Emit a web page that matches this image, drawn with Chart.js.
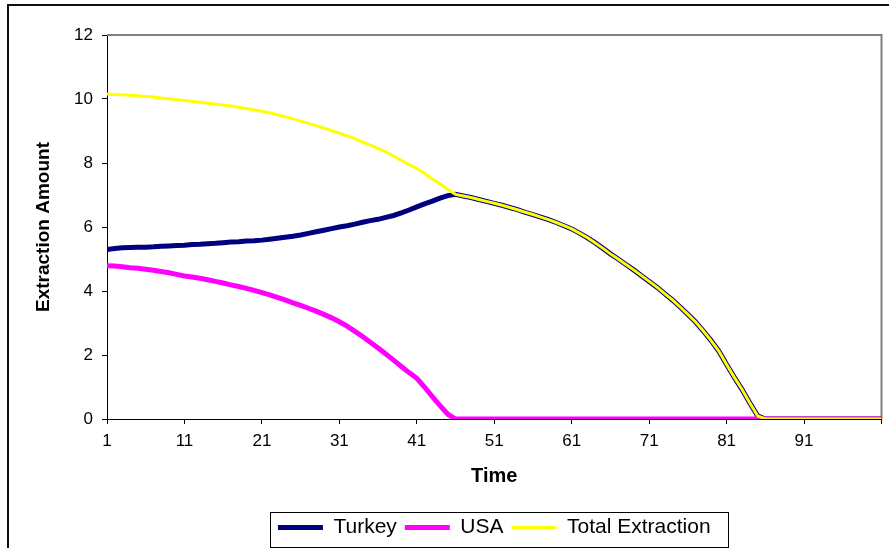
<!DOCTYPE html>
<html>
<head>
  <title>Extraction Amount</title>
  <style>
    body {
      margin: 0;
      background: #fff;
      overflow: hidden;
      width: 889px;
      height: 548px;
      position: relative;
    }
    .frame {
      position: absolute;
      left: 7px;
      top: 4px;
      width: 1000px;
      height: 1000px;
      border-left: 2px solid #111;
      border-top: 2px solid #111;
    }
    canvas {
      position: absolute;
      left: 0;
      top: 0;
    }
  </style>
</head>
<body>
  <div class="frame"></div>
  <canvas id="chart" width="889" height="548"></canvas>

  <script src="https://cdn.jsdelivr.net/npm/chart.js"></script>
  <script>
    // time steps 1..101, ticks every 10 periods
    const times = Array.from({ length: 101 }, (_, i) => i + 1);
    const xTicks = [1, 11, 21, 31, 41, 51, 61, 71, 81, 91, 101];
    const xTickLabels = ['1', '11', '21', '31', '41', '51', '61', '71', '81', '91', ''];

    const turkey = [
      5.30, 5.33, 5.35, 5.36, 5.37, 5.37, 5.38, 5.40, 5.41, 5.42,
      5.43, 5.45, 5.46, 5.48, 5.49, 5.51, 5.53, 5.54, 5.56, 5.57,
      5.59, 5.62, 5.65, 5.68, 5.71, 5.75, 5.80, 5.85, 5.90, 5.95,
      6.00, 6.04, 6.09, 6.15, 6.20, 6.24, 6.30, 6.36, 6.44, 6.53,
      6.63, 6.72, 6.81, 6.90, 6.98, 7.02, 6.97, 6.92, 6.86, 6.80,
      6.74, 6.68, 6.61, 6.54, 6.46, 6.39, 6.31, 6.23, 6.14, 6.04,
      5.94, 5.81, 5.67, 5.51, 5.34, 5.16, 5.00, 4.83, 4.66, 4.48,
      4.30, 4.12, 3.92, 3.72, 3.50, 3.27, 3.03, 2.75, 2.45, 2.12,
      1.70, 1.30, 0.92, 0.50, 0.10, 0, 0, 0, 0, 0,
      0, 0, 0, 0, 0, 0, 0, 0, 0, 0, 0
    ];

    const usa = [
      4.79, 4.78, 4.76, 4.73, 4.71, 4.68, 4.65, 4.61, 4.57, 4.52,
      4.47, 4.44, 4.40, 4.35, 4.30, 4.25, 4.19, 4.14, 4.08, 4.02,
      3.95, 3.88, 3.80, 3.72, 3.63, 3.55, 3.46, 3.37, 3.27, 3.16,
      3.04, 2.90, 2.74, 2.58, 2.40, 2.22, 2.03, 1.84, 1.64, 1.45,
      1.27, 1.00, 0.70, 0.42, 0.15, 0, 0, 0, 0, 0,
      0, 0, 0, 0, 0, 0, 0, 0, 0, 0,
      0, 0, 0, 0, 0, 0, 0, 0, 0, 0,
      0, 0, 0, 0, 0, 0, 0, 0, 0, 0,
      0, 0, 0, 0, 0, 0, 0, 0, 0, 0,
      0, 0, 0, 0, 0, 0, 0, 0, 0, 0, 0
    ];

    const total = [
      10.16, 10.14, 10.13, 10.12, 10.10, 10.08, 10.06, 10.03, 10.01, 9.98,
      9.95, 9.93, 9.90, 9.87, 9.84, 9.81, 9.78, 9.74, 9.70, 9.66,
      9.62, 9.57, 9.51, 9.45, 9.38, 9.31, 9.24, 9.17, 9.09, 9.01,
      8.93, 8.85, 8.76, 8.66, 8.56, 8.46, 8.35, 8.22, 8.08, 7.95,
      7.83, 7.68, 7.50, 7.35, 7.17, 7.02, 6.97, 6.92, 6.86, 6.80,
      6.74, 6.68, 6.61, 6.54, 6.46, 6.39, 6.31, 6.23, 6.14, 6.04,
      5.94, 5.81, 5.67, 5.51, 5.34, 5.16, 5.00, 4.83, 4.66, 4.48,
      4.30, 4.12, 3.92, 3.72, 3.50, 3.27, 3.03, 2.75, 2.45, 2.12,
      1.70, 1.30, 0.92, 0.50, 0.10, 0, 0, 0, 0, 0,
      0, 0, 0, 0, 0, 0, 0, 0, 0, 0, 0
    ];

    const FONT = '"Liberation Sans", Arial, sans-serif';
    const toPoints = arr => arr.map((v, i) => ({ x: times[i], y: v }));

    // gray top/right plot border + box around legend, like the Excel original
    const framePlugin = {
      id: 'frame',
      beforeDatasetsDraw(chart) {
        const { ctx, chartArea: a } = chart;
        ctx.save();
        ctx.strokeStyle = '#808080';
        ctx.lineWidth = 2;
        ctx.beginPath();
        ctx.moveTo(a.left, a.top);
        ctx.lineTo(a.right, a.top);
        ctx.lineTo(a.right, a.bottom);
        ctx.stroke();
        ctx.restore();
      },
      afterDraw(chart) {
        const lg = chart.legend;
        const hb = lg && lg.legendHitBoxes;
        if (!hb || !hb.length) return;
        const first = hb[0], last = hb[hb.length - 1];
        const ctx = chart.ctx;
        ctx.save();
        ctx.strokeStyle = '#000';
        ctx.lineWidth = 1;
        const left = Math.round(first.left - 8) + 0.5;
        const right = Math.round(last.left + last.width + 17) + 0.5;
        ctx.strokeRect(left, Math.round(lg.top + 3) + 0.5, right - left, lg.bottom - lg.top - 4);
        ctx.restore();
      }
    };

    const ctx = document.getElementById('chart').getContext('2d');
    new Chart(ctx, {
      type: 'line',
      data: {
        datasets: [
          { label: 'Turkey', data: toPoints(turkey), borderColor: '#000080', backgroundColor: '#000080', borderWidth: 5, pointRadius: 0, order: 2 },
          { label: 'USA', data: toPoints(usa), borderColor: '#ff00ff', backgroundColor: '#ff00ff', borderWidth: 5, pointRadius: 0, order: 1 },
          { label: 'Total Extraction', data: toPoints(total), borderColor: '#ffff00', backgroundColor: '#ffff00', borderWidth: 3, pointRadius: 0, order: 0 }
        ]
      },
      options: {
        responsive: false,
        animation: false,
        layout: { padding: { top: 35, right: 6, left: 0, bottom: 0 } },
        plugins: {
          tooltip: { enabled: false },
          legend: {
            position: 'bottom',
            fullSize: false,
            labels: {
              usePointStyle: true,
              pointStyle: 'line',
              pointStyleWidth: 45,
              boxWidth: 45,
              padding: 8,
              color: '#000',
              font: { family: FONT, size: 21 },
              sort: (a, b) => a.datasetIndex - b.datasetIndex
            }
          }
        },
        scales: {
          x: {
            type: 'linear',
            min: 1,
            max: 101,
            afterBuildTicks: axis => { axis.ticks = xTicks.map(v => ({ value: v })); },
            afterFit: axis => { axis.height = 90; },
            ticks: {
              callback: (v, i) => xTickLabels[i],
              autoSkip: false,
              maxRotation: 0,
              padding: 7.5,
              color: '#000',
              font: { family: FONT, size: 17 }
            },
            grid: { drawOnChartArea: false, tickLength: 5, tickColor: '#000' },
            border: { color: '#000', width: 1 },
            title: {
              display: true,
              text: 'Time',
              color: '#000',
              font: { family: FONT, size: 20, weight: 'bold' },
              padding: { top: 0, bottom: 21 }
            }
          },
          y: {
            min: 0,
            max: 12,
            afterFit: axis => { axis.width = 107; },
            ticks: {
              stepSize: 2,
              padding: 9,
              color: '#000',
              font: { family: FONT, size: 17 }
            },
            grid: { drawOnChartArea: false, tickLength: 5, tickColor: '#000' },
            border: { color: '#000', width: 1 },
            title: {
              display: true,
              text: 'Extraction Amount',
              color: '#000',
              font: { family: FONT, size: 19, weight: 'bold' },
              padding: { top: 32.6, bottom: 0 }
            }
          }
        }
      },
      plugins: [framePlugin]
    });
  </script>
</body>
</html>
